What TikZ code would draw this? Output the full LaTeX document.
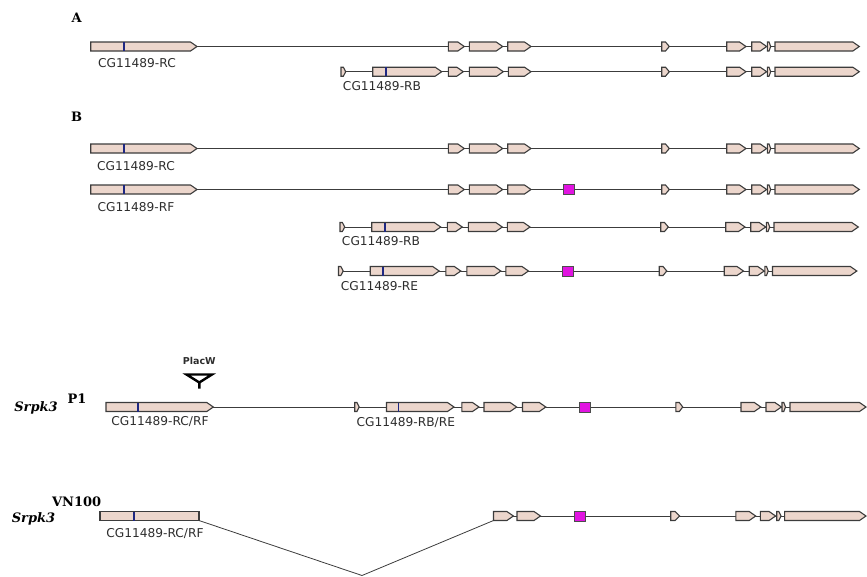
\documentclass[tikz,border=0pt]{standalone}
\usepackage{fontspec}
\setmainfont{DejaVu Serif}
\setsansfont{DejaVu Sans}
\definecolor{ekson}{RGB}{236,214,204}
\definecolor{garis}{RGB}{60,60,60}
\definecolor{penanda}{RGB}{30,40,130}
\definecolor{mutasi}{RGB}{225,20,225}
\definecolor{teks}{RGB}{45,45,45}
\begin{document}
\begin{tikzpicture}[x=1pt, y=-1pt,
  intron/.style={draw=garis, line width=0.9pt},
  exonbox/.style={draw=garis, fill=ekson, line width=1.1pt, line join=miter},
  bluetick/.style={draw=penanda, line width=1.7pt},
  snp/.style={draw=black!70, fill=mutasi, line width=0.9pt, minimum width=11pt, minimum height=10pt, inner sep=0pt},
  lbl/.style={font=\sffamily\fontsize{12.2}{14}\selectfont, text=teks, inner sep=0pt},
  sect/.style={font=\bfseries\fontsize{13}{15}\selectfont, inner sep=0pt},
  gene/.style={font=\bfseries\itshape\fontsize{13}{15}\selectfont, inner sep=0pt},
  allele/.style={font=\bfseries\fontsize{13}{15}\selectfont, inner sep=0pt}]
  \useasboundingbox (0,0) rectangle (867,576);
  % huruf bagian
  \node[sect] (secA) at (76.7,17.3) {A};
  \node[sect] (secB) at (76.7,116.7) {B};
  % transkrip RC / RF
  \foreach \r in {46.5,148.5,189.5}{
    \draw[intron] (197,\r) -- (859,\r);
    \foreach \a/\b in {90.7/197, 448.3/464.3, 469.3/502.7, 507.7/531, 661.7/669.3, 726.7/746, 751.7/766.7, 767.3/770.7, 775/859.3}{
      \pgfmathsetmacro\tp{min(6.5,0.5*(\b-\a))}
      \draw[exonbox] (\a,\r-4.5) -- (\b-\tp,\r-4.5) -- (\b,\r) -- (\b-\tp,\r+4.5) -- (\a,\r+4.5) -- cycle;
    }
    \draw[bluetick] (124,\r-4.5) -- (124,\r+4.5);
  }
  % transkrip RB / RE
  \foreach \r/\s in {71.7/0, 227/-1, 271/-2.5}{
    \begin{scope}[xshift=\s pt]
      \draw[intron] (341,\r) -- (859,\r);
      \foreach \a/\b in {341/345.7, 372.7/441.7, 448.3/463.3, 469.3/503.3, 508.3/531, 661.7/669.3, 726.7/746, 751.7/766.7, 767.3/770.7, 775/859.3}{
        \pgfmathsetmacro\tp{min(6.5,0.5*(\b-\a))}
        \draw[exonbox] (\a,\r-4.5) -- (\b-\tp,\r-4.5) -- (\b,\r) -- (\b-\tp,\r+4.5) -- (\a,\r+4.5) -- cycle;
      }
      \draw[bluetick] (385.7,\r-4.5) -- (385.7,\r+4.5);
    \end{scope}
  }
  \node[snp] (snpRF) at (569,189.5) {};
  \node[snp] (snpRE) at (568,271) {};
  % label transkrip
  \node[lbl] (rcA) at (137,63) {CG11489-RC};
  \node[lbl] (rbA) at (382,85.7) {CG11489-RB};
  \node[lbl] (rcB) at (136,166) {CG11489-RC};
  \node[lbl] (rfB) at (136,206.7) {CG11489-RF};
  \node[lbl] (rbB) at (381,241) {CG11489-RB};
  \node[lbl] (reB) at (379.5,285.7) {CG11489-RE};
  % alel P1
  \node[gene] (srpkP) at (36,408) {Srpk3};
  \node[allele] (alelP) at (77,398.3) {P1};
  \draw[intron] (213.3,407) -- (866,407);
  \foreach \a/\b in {106/213.3, 354.7/359.2, 386.5/454, 461.8/479, 484/516.6, 522.5/545.8, 675.9/682.7, 741/760.8, 766/781.4, 782/785.5, 790/866}{
    \pgfmathsetmacro\tp{min(6.5,0.5*(\b-\a))}
    \draw[exonbox] (\a,402.5) -- (\b-\tp,402.5) -- (\b,407) -- (\b-\tp,411.5) -- (\a,411.5) -- cycle;
  }
  \foreach \x in {138.3,398.5}
    \draw[bluetick] (\x,402.5) -- (\x,411.5);
  \node[snp] (snpP) at (585,407) {};
  \node[font=\sffamily\bfseries\fontsize{9.5}{11}\selectfont, text=teks, inner sep=0pt] (placw) at (199.3,361) {PlacW};
  \draw[line width=2.4pt, line join=miter] (186.5,374.5) -- (212,374.5) -- (199.3,382.5) -- cycle (199.3,382.5) -- (199.3,388.5);
  \node[lbl] (rcP) at (160,421.7) {CG11489-RC/RF};
  \node[lbl] (rbP) at (405.8,422.8) {CG11489-RB/RE};
  % alel VN100 (delesi)
  \node[gene] (srpkV) at (33.5,519) {Srpk3};
  \node[allele] (alelV) at (76.7,501.7) {VN100};
  \draw[exonbox] (100,511.5) rectangle (199,520.5);
  \draw[bluetick] (134,511.5) -- (134,520.5);
  \coordinate (delkiri) at (199,520.5);
  \coordinate (delbawah) at (362,575.5);
  \coordinate (delkanan) at (493.5,520.5);
  \draw[intron, line width=0.8pt] (delkiri) -- (delbawah) -- (delkanan);
  \draw[intron] (513.4,516) -- (866,516);
  \foreach \a/\b in {493.5/513.4, 517/540.5, 670.7/679.7, 735.8/755.7, 760.4/775.6, 776.7/781, 784.6/866}{
    \pgfmathsetmacro\tp{min(6.5,0.5*(\b-\a))}
    \draw[exonbox] (\a,511.5) -- (\b-\tp,511.5) -- (\b,516) -- (\b-\tp,520.5) -- (\a,520.5) -- cycle;
  }
  \node[snp] (snpV) at (580,516) {};
  \node[lbl] (rcV) at (155,533.3) {CG11489-RC/RF};
\end{tikzpicture}
\end{document}
